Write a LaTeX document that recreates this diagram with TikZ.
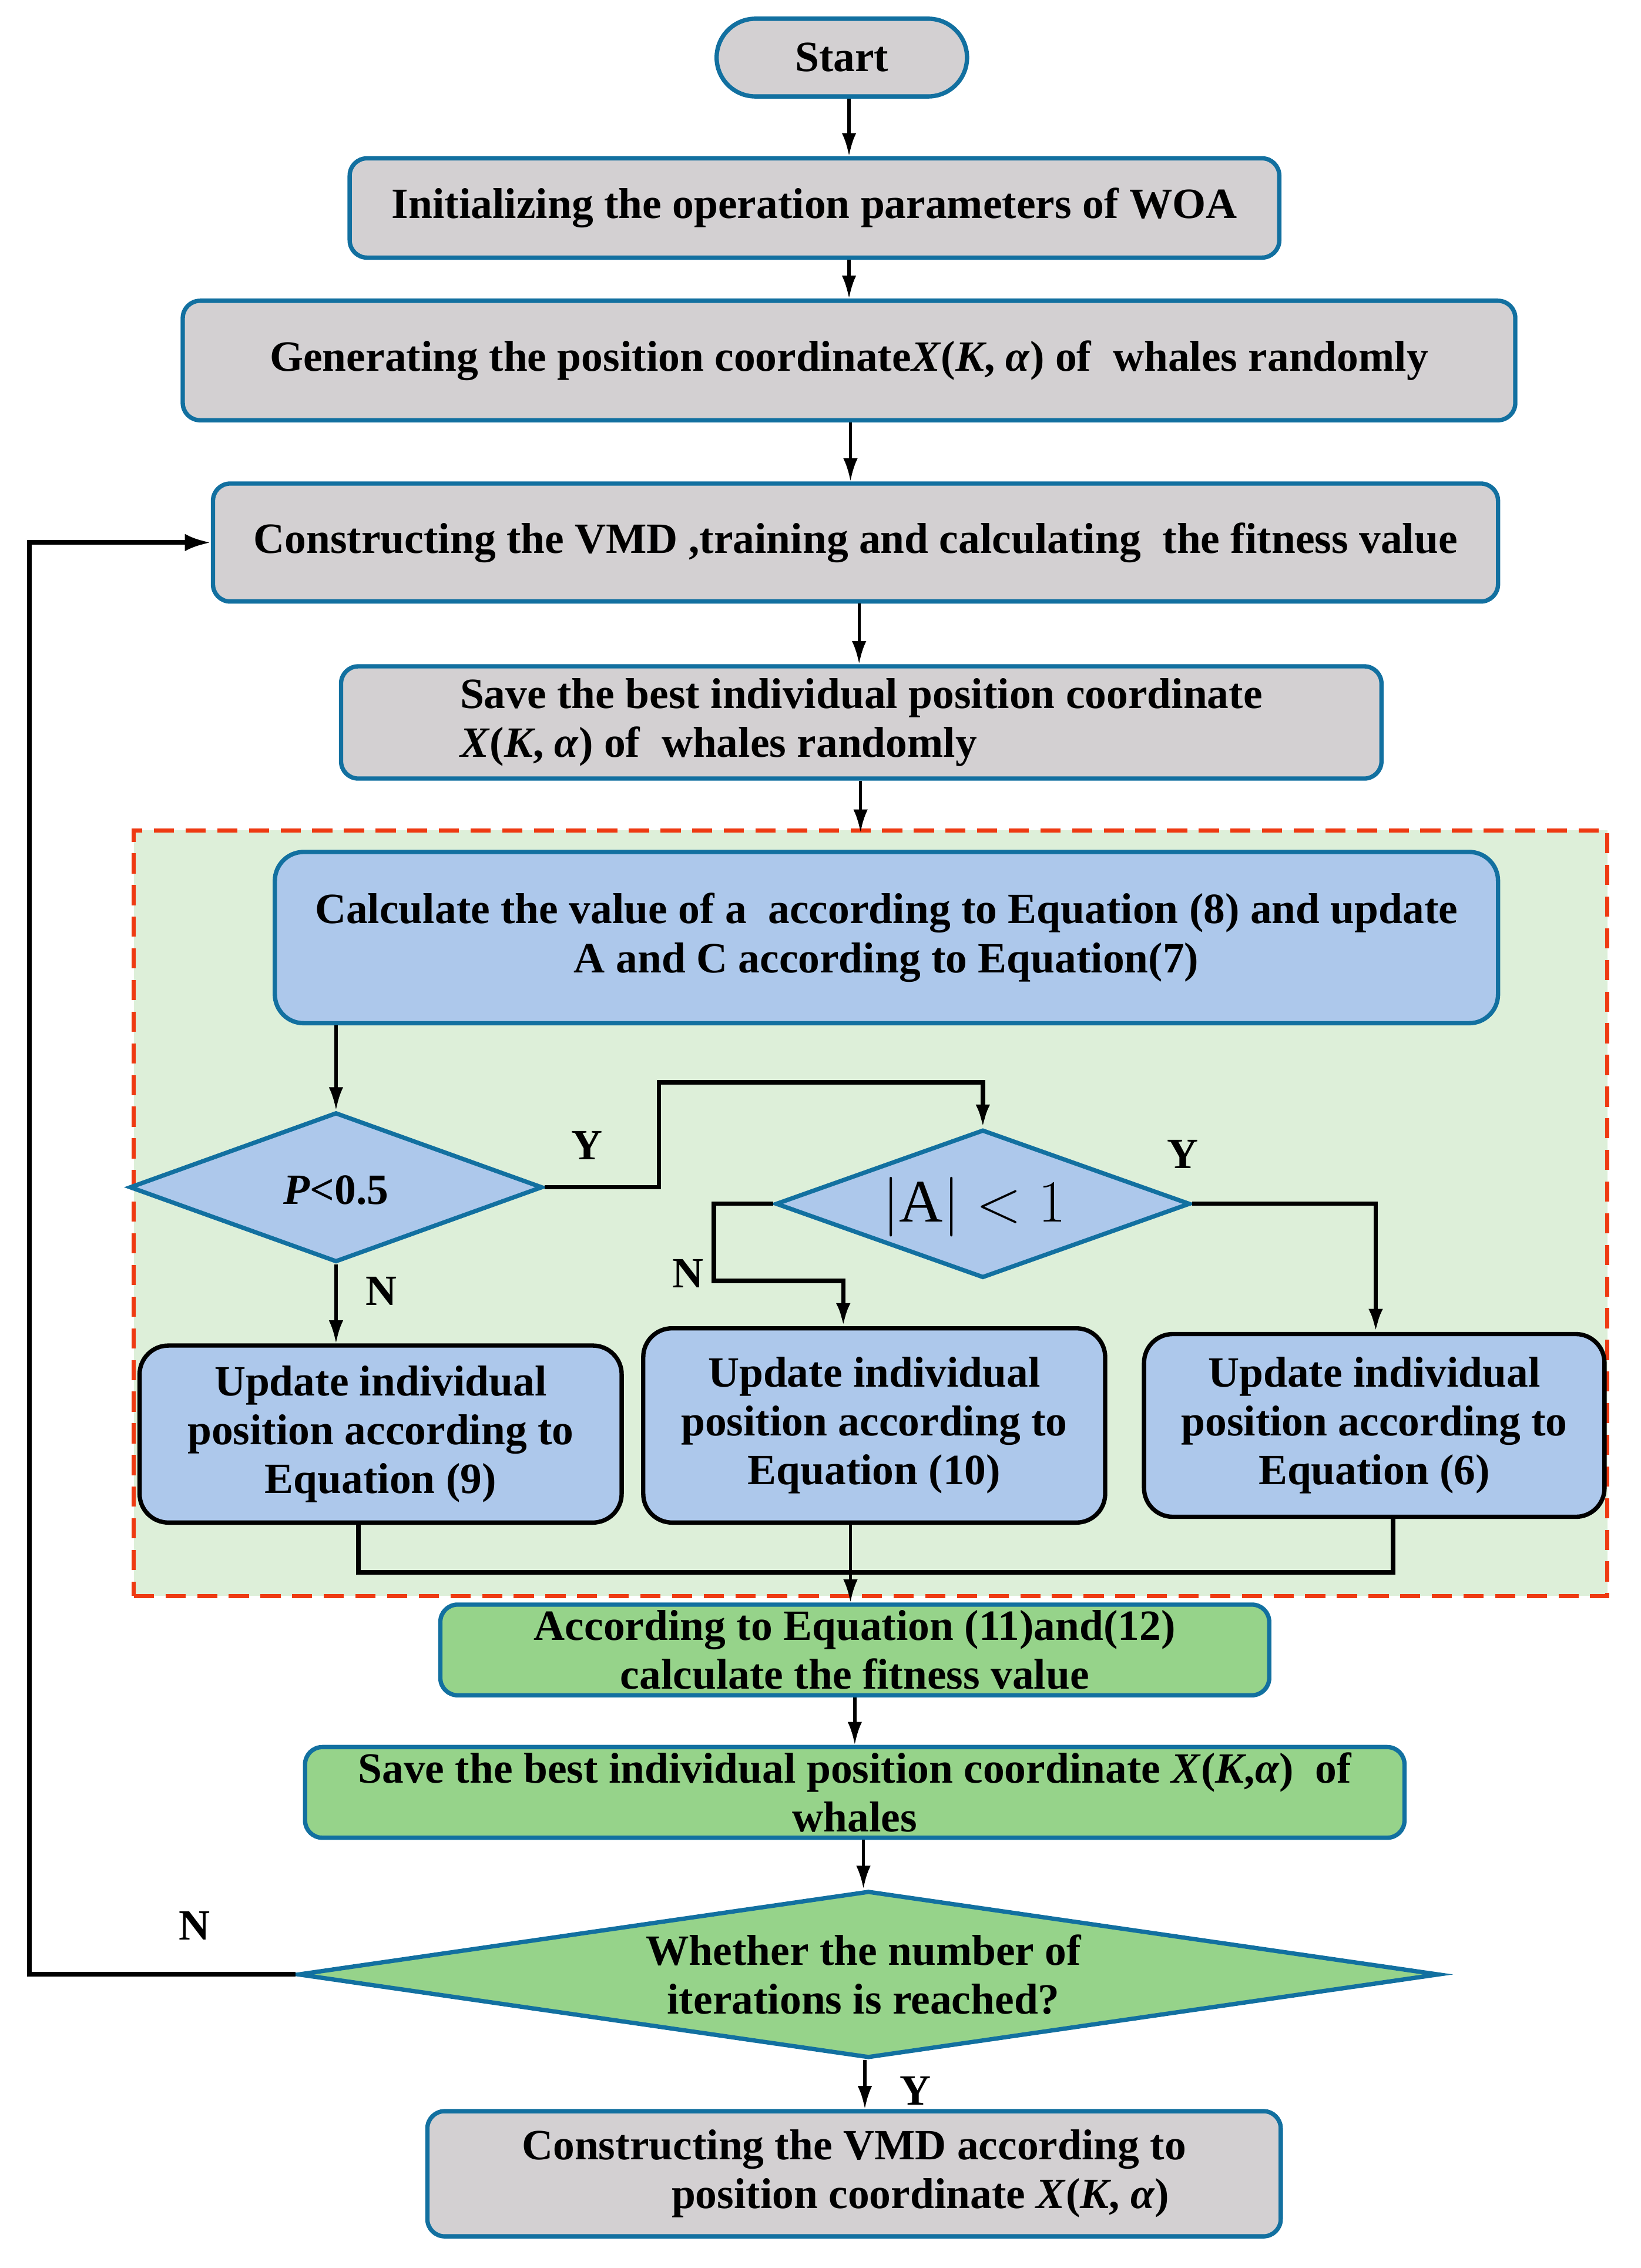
\documentclass[tikz,border=0pt]{standalone}
\usepackage{fontspec}
\setmainfont{Liberation Serif}
\usetikzlibrary{arrows.meta,shapes.geometric}
\definecolor{bord}{RGB}{18,112,160}
\definecolor{grayf}{RGB}{211,208,210}
\definecolor{bluef}{RGB}{173,200,235}
\definecolor{greenf}{RGB}{150,211,138}
\definecolor{bgg}{RGB}{221,239,217}
\definecolor{dred}{RGB}{238,58,18}
\tikzset{
 base/.style={draw=bord, line width=1.5pt, inner sep=0pt, align=center, font=\fontsize{15}{17}\selectfont\bfseries},
 gbox/.style={base, rectangle, rounded corners=6pt, fill=grayf},
 bbox/.style={base, rectangle, rounded corners=10pt, fill=bluef},
 ubox/.style={bbox, draw=black},
 grbox/.style={base, rectangle, rounded corners=6pt, fill=greenf},
 dia/.style={base, diamond, aspect=2, fill=bluef},
 grpbox/.style={rectangle, draw=dred, fill=bgg, line width=1.5pt, dash pattern=on 7pt off 4pt, inner sep=0pt},
 arr/.style={-{Latex[length=8pt,width=5pt]}, line width=1.1pt},
 thk/.style={line width=1.6pt},
 lab/.style={font=\fontsize{15}{17}\selectfont\bfseries, inner sep=0pt, align=center},
}
\newcommand{\myXKA}{\textit{X}(\textit{K}, \textit{α})}
\begin{document}
\begin{tikzpicture}[x=0.5pt,y=-0.5pt]
\fill[white] (0,0) rectangle (1140,1576);
\useasboundingbox (0,0) rectangle (1140,1576);
% group background
\node[grpbox, minimum width=512pt, minimum height=266pt] (grp) at (605,843) {};
% column coordinates
\coordinate (c590) at (590,0);
\coordinate (c591) at (591,0);
\coordinate (c594) at (594,0);
\coordinate (c597) at (597,0);
\coordinate (c598) at (598,0);
\coordinate (c600) at (600,0);
\coordinate (c601) at (601,0);
% main nodes
\node[gbox, rounded corners=13.5pt, minimum width=87pt, minimum height=27pt] (start) at (585,40) {Start};
\node[gbox, minimum width=323pt, minimum height=34.5pt] (init) at (566,144.5) {Initializing the operation parameters of WOA};
\node[gbox, minimum width=463pt, minimum height=41.5pt] (gen) at (590,250.5) {Generating the position coordinate\myXKA{} of\ \ whales randomly};
\node[gbox, minimum width=446.5pt, minimum height=41pt] (con) at (594.5,377) {Constructing the VMD ,training and calculating\ \ the fitness value};
\node[gbox, minimum width=361.5pt, minimum height=39pt, align=left] (save1) at (598.5,502) {Save the best individual position coordinate\\\myXKA{} of\ \ whales randomly};
\node[bbox, minimum width=425pt, minimum height=59.5pt] (calc) at (616,651.5) {Calculate the value of a\ \ according to Equation (8) and update\\A and C according to Equation(7)};
\node[dia, minimum width=143.5pt, minimum height=52pt] (p) at (233.5,825) {};
\node[lab] (ptext) at ([yshift=-1pt]p.center) {\textit{P}<0.5};
\node[dia, minimum width=144pt, minimum height=51.5pt] (a) at (683,836.5) {};
\node[inner sep=0pt, font=\fontsize{21}{23}\selectfont] (atext) at ([xshift=-3pt,yshift=-1pt]a.center) {$\left|\mathrm{A}\right|<1$};
\node[ubox, minimum width=167.5pt, minimum height=61.5pt] (box1) at (264.5,996.5) {Update individual\\position according to\\Equation (9)};
\node[ubox, minimum width=160.5pt, minimum height=67.5pt] (box2) at (607.5,990.5) {Update individual\\position according to\\Equation (10)};
\node[ubox, minimum width=160pt, minimum height=63.5pt] (box3) at (955,990.5) {Update individual\\position according to\\Equation (6)};
\node[grbox, minimum width=288pt, minimum height=31.5pt] (acc) at (594,1146.5) {According to Equation (11)and(12)\\calculate the fitness value};
\node[grbox, minimum width=382pt, minimum height=31.5pt] (save2) at (594,1245.5) {Save the best individual position coordinate \textit{X}(\textit{K},\textit{α})\ \ of\\whales};
\node[dia, fill=greenf, minimum width=396.5pt, minimum height=58pt] (w) at (603.5,1372) {};
\node[lab] (wtext) at (600,1372) {Whether the number of\\iterations is reached?};
\node[gbox, minimum width=296.5pt, minimum height=43.5pt, align=left] (final) at (593.5,1510.5) {Constructing the VMD according to\\\hspace*{52pt}position coordinate \myXKA};
% labels
\node[lab] (y1) at (408,796) {Y};
\node[lab] (y2) at (822,802) {Y};
\node[lab] (n1) at (265,897) {N};
\node[lab] (n2) at (478,885) {N};
\node[lab] (n3) at (135,1338) {N};
\node[lab] (y3) at (636,1453) {Y};
% junction coordinates
\coordinate (j1) at (458,752);
\coordinate (j2) at (496,890);
% connectors
\draw[arr] (c590 |- start.south) -- (c590 |- init.north);
\draw[arr] (c590 |- init.south) -- (c590 |- gen.north);
\draw[arr] (c591 |- gen.south) -- (c591 |- con.north);
\draw[arr] (c597 |- con.south) -- (c597 |- save1.north);
\draw[arr] (c598 |- save1.south) -- ([yshift=-1.5pt]c598 |- grp.north);
\draw[arr] (p.north |- calc.south) -- (p.north);
\draw[arr] (p.south) -- (p.south |- box1.north);
\draw[arr, line width=1.5pt] (p.east) -| (j1) -| (a.north);
\draw[arr, line width=1.5pt] (a.east) -| ([xshift=0.5pt]box3.north);
\draw[arr, line width=1.5pt] (a.west) -| (j2) -| ([xshift=-10.75pt]box2.north);
\draw[thk] ([xshift=-7.75pt]box1.south) -- ++(0,33) -| ([xshift=6.5pt]box3.south);
\draw[arr] (c591 |- box2.south) -- (c591 |- acc.north);
\draw[arr] (c594 |- acc.south) -- (c594 |- save2.north);
\draw[arr] (c600 |- save2.south) -- (c600 |- w.north);
\draw[arr] (c601 |- w.south) -- (c601 |- final.north);
\draw[thk, -{Latex[length=9pt,width=6pt]}] (w.west) -- ++(-185,0) |- (con.west);
\end{tikzpicture}
\end{document}
